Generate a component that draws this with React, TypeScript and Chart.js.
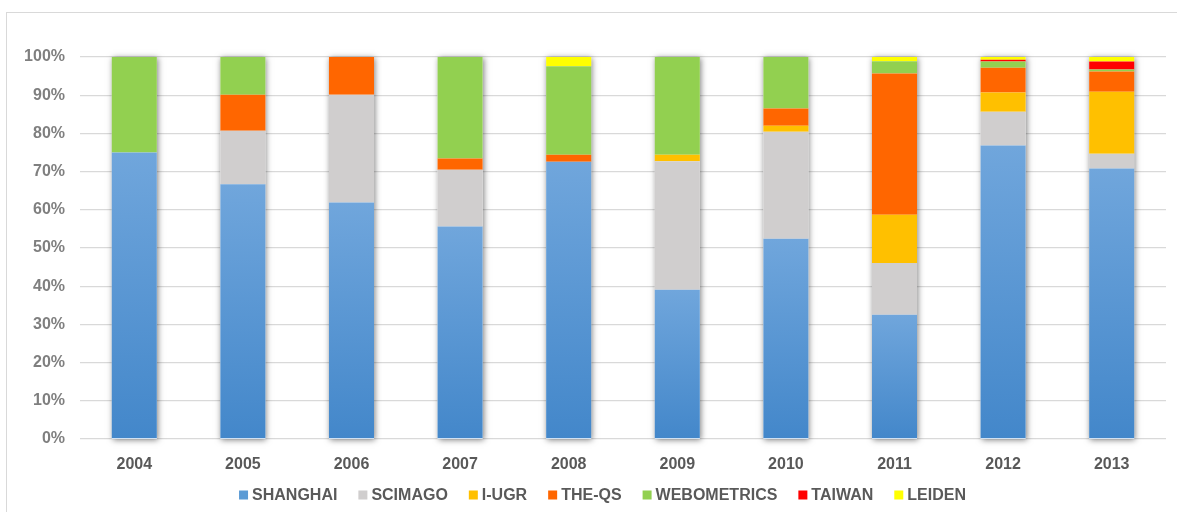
import React, { useEffect, useRef } from "react";
import { Chart, registerables } from "chart.js";

Chart.register(...registerables);

// Share of each ranking, per year (percent of total, stacked to 100)
const YEARS = ["2004", "2005", "2006", "2007", "2008", "2009", "2010", "2011", "2012", "2013"];
const SHANGHAI = [75.0, 66.7, 61.9, 55.6, 72.6, 39.1, 52.4, 32.5, 76.8, 70.8];
const SCIMAGO = [0, 14.0, 28.2, 14.9, 0, 33.6, 28.0, 13.6, 8.9, 3.9];
const I_UGR = [0, 0, 0, 0, 0, 1.7, 1.6, 12.6, 5.0, 16.2];
const THE_QS = [0, 9.4, 9.9, 2.9, 1.8, 0, 4.5, 37.0, 6.5, 5.3];
const WEBOMETRICS = [25.0, 9.9, 0, 26.6, 23.2, 25.6, 13.5, 3.2, 1.6, 0.5];
const TAIWAN = [0, 0, 0, 0, 0, 0, 0, 0, 0.5, 2.1];
const LEIDEN = [0, 0, 0, 0, 2.4, 0, 0, 1.1, 0.7, 1.2];

const SERIES_NAMES = ["SHANGHAI", "SCIMAGO", "I-UGR", "THE-QS", "WEBOMETRICS", "TAIWAN", "LEIDEN"];
const SERIES_DATA = [SHANGHAI, SCIMAGO, I_UGR, THE_QS, WEBOMETRICS, TAIWAN, LEIDEN];
const SERIES_COLORS = ["#5b9bd5", "#d0cece", "#ffc000", "#ff6600", "#92d050", "#ff0000", "#ffff00"];

const FONT = '"Liberation Sans", Arial, sans-serif';

// Vertical gradient for the blue segments, light at the top, darker at the base
const shanghaiFill = (ctx: any) => {
  const chart = ctx.chart;
  if (!chart.chartArea || ctx.type !== "data") return SERIES_COLORS[0];
  const y = chart.scales.y;
  const top = y.getPixelForValue(ctx.raw);
  const bottom = y.getPixelForValue(0);
  const g = chart.ctx.createLinearGradient(0, top, 0, bottom);
  g.addColorStop(0, "#70a6dc");
  g.addColorStop(1, "#4387ca");
  return g;
};

// Soft drop shadow behind each full stacked column
const barShadow = {
  id: "barShadow",
  beforeDatasetsDraw(chart: any) {
    const meta = chart.getDatasetMeta(0);
    const y = chart.scales.y;
    const ctx = chart.ctx;
    ctx.save();
    ctx.shadowColor = "rgba(0,0,0,0.5)";
    ctx.shadowBlur = 6;
    ctx.shadowOffsetX = 1;
    ctx.shadowOffsetY = 1;
    ctx.fillStyle = "#ffffff";
    meta.data.forEach((bar: any, i: number) => {
      const { x, width } = bar.getProps(["x", "width"], true);
      const total = chart.data.datasets.reduce((s: number, d: any) => s + (d.data[i] as number), 0);
      const top = y.getPixelForValue(Math.min(total, 100));
      const bottom = y.getPixelForValue(0);
      ctx.fillRect(x - width / 2, top, width, bottom - top);
    });
    ctx.restore();
  },
};

// Single-row legend below the axis
const bottomLegend = {
  id: "bottomLegend",
  afterDraw(chart: any) {
    const ctx = chart.ctx;
    const box = 9;
    const gapText = 4;
    const gapItem = 21;
    const cy = 495;
    ctx.save();
    ctx.font = `bold 16px ${FONT}`;
    ctx.textBaseline = "middle";
    ctx.textAlign = "left";
    const widths = SERIES_NAMES.map((n) => ctx.measureText(n).width);
    const total =
      widths.reduce((s, w) => s + w, 0) + SERIES_NAMES.length * (box + gapText) + (SERIES_NAMES.length - 1) * gapItem;
    let x = 602.5 - total / 2;
    SERIES_NAMES.forEach((name, i) => {
      ctx.fillStyle = SERIES_COLORS[i];
      ctx.fillRect(x, cy - box / 2, box, box);
      ctx.fillStyle = "#595959";
      ctx.fillText(name, x + box + gapText, cy + 1);
      x += box + gapText + widths[i] + gapItem;
    });
    ctx.restore();
  },
};

export default function App() {
  const canvasRef = useRef<HTMLCanvasElement | null>(null);

  useEffect(() => {
    if (!canvasRef.current) return;
    const chart = new Chart(canvasRef.current, {
      type: "bar",
      data: {
        labels: YEARS,
        datasets: SERIES_NAMES.map((name, i) => ({
          label: name,
          data: SERIES_DATA[i],
          backgroundColor: i === 0 ? shanghaiFill : SERIES_COLORS[i],
          borderWidth: 0,
          barPercentage: 0.415,
          categoryPercentage: 1,
        })),
      },
      options: {
        responsive: false,
        animation: false,
        layout: { padding: { top: 57, right: 11, left: 0, bottom: 0 } },
        plugins: {
          legend: { display: false },
          tooltip: { enabled: false },
        },
        scales: {
          x: {
            stacked: true,
            grid: { display: false },
            border: { display: false },
            ticks: {
              color: "#595959",
              font: { family: FONT, size: 16, weight: "bold" },
              padding: 8,
            },
            afterFit: (scale: any) => {
              scale.height = 73;
            },
          },
          y: {
            stacked: true,
            min: 0,
            max: 100,
            border: { display: false },
            grid: { color: "#d9d9d9", lineWidth: 1.3, drawTicks: false },
            ticks: {
              stepSize: 10,
              color: "#7f7f7f",
              font: { family: FONT, size: 16, weight: "bold" },
              padding: 15,
              callback: (v: any) => `${v}%`,
            },
            afterFit: (scale: any) => {
              scale.width = 80;
            },
          },
        },
      },
      plugins: [barShadow, bottomLegend],
    });
    return () => chart.destroy();
  }, []);

  return (
    <div
      style={{
        position: "absolute",
        left: 0,
        top: 0,
        width: 1177,
        height: 512,
        overflow: "hidden",
        background: "#ffffff",
      }}
    >
      <div
        style={{
          position: "absolute",
          left: 6,
          top: 12,
          width: 1220,
          height: 540,
          border: "1px solid #d9d9d9",
          boxSizing: "border-box",
        }}
      />
      <canvas ref={canvasRef} width={1177} height={512} style={{ position: "absolute", left: 0, top: 0 }} />
    </div>
  );
}
